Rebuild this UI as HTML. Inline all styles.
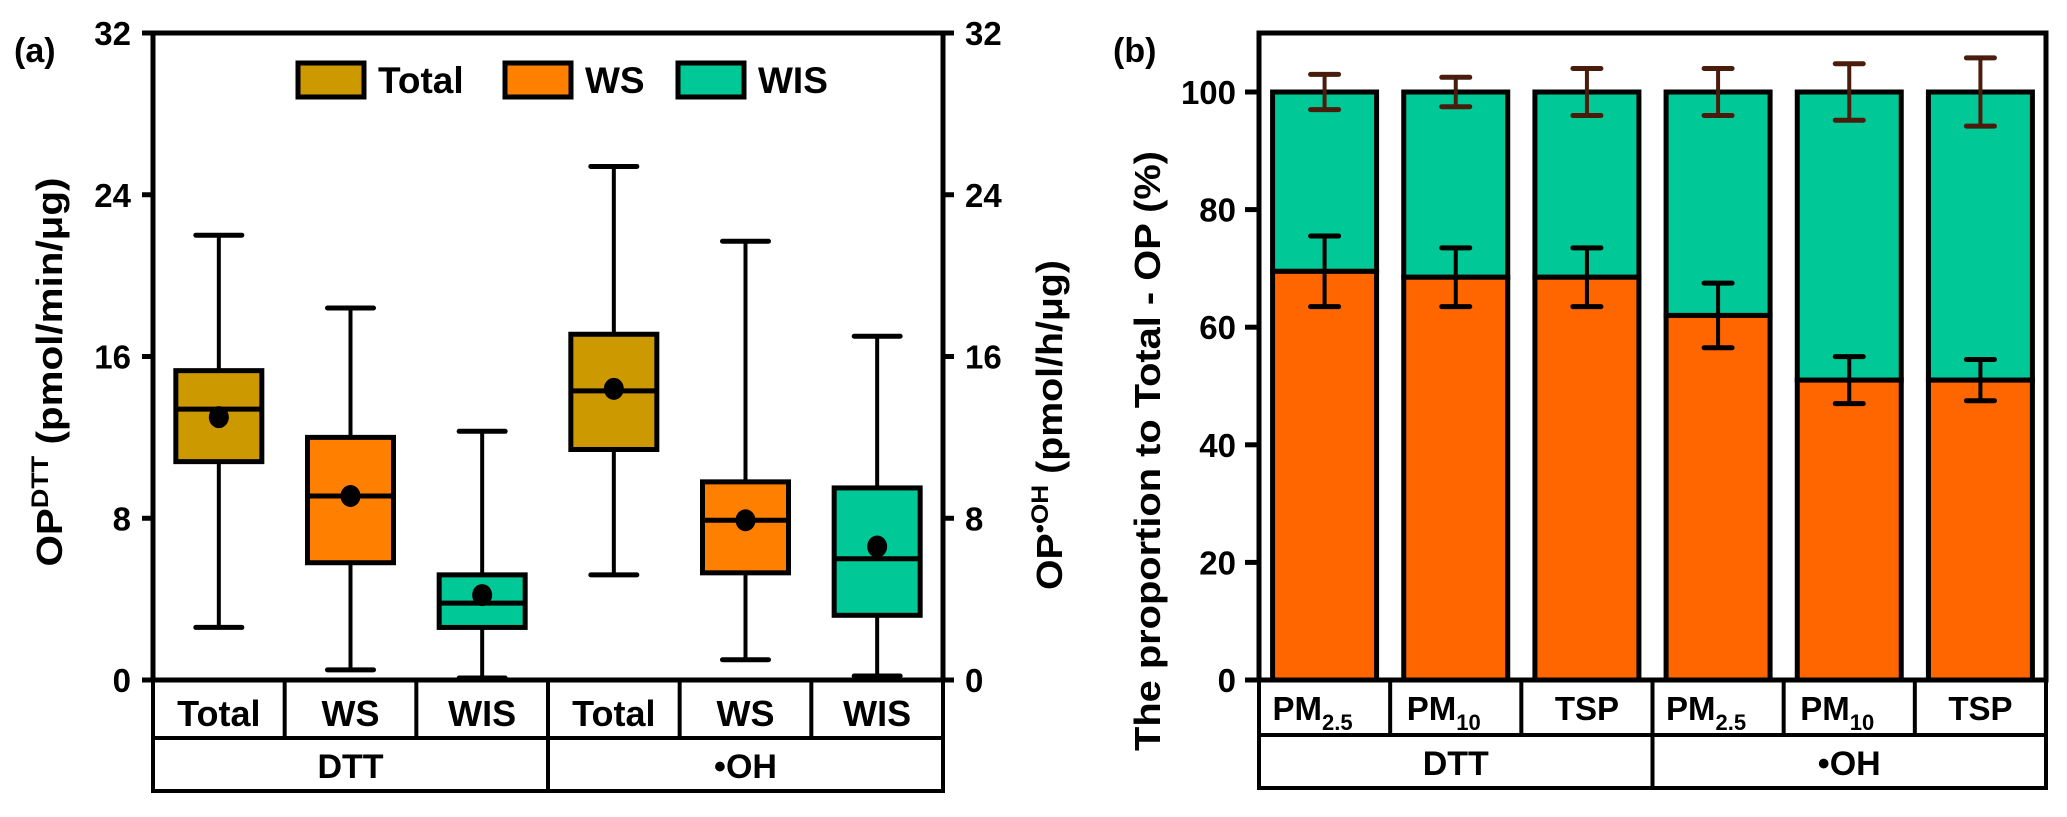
<!DOCTYPE html>
<html><head><meta charset="utf-8">
<style>
body{margin:0;background:#fff;}
svg text{font-family:"Liberation Sans",sans-serif;font-weight:bold;fill:#000;}
</style></head>
<body>
<svg id="chart" width="2067" height="812" viewBox="0 0 2067 812" xmlns="http://www.w3.org/2000/svg">
<g id="pa"></g>
<g id="pb"></g>
</svg>
<script>
// Panel (a) data
const boxCats = ["Total","WS","WIS","Total","WS","WIS"];
const boxGroups = ["DTT","•OH"];
const whiskHigh = [22.0,18.4,12.3,25.4,21.7,17.0];
const q3Vals = [15.3,12.0,5.2,17.1,9.8,9.5];
const medVals = [13.4,9.1,3.8,14.3,7.9,6.0];
const meanVals = [13.0,9.1,4.2,14.4,7.9,6.6];
const q1Vals = [10.8,5.8,2.6,11.4,5.3,3.2];
const whiskLow = [2.6,0.5,0.1,5.2,1.0,0.2];
const aTicks = [0,8,16,24,32];
// Panel (b) data
const barCats = ["PM","PM","TSP","PM","PM","TSP"];
const barSubs = ["2.5","10","","2.5","10",""];
const wsPct = [69.5,68.5,68.5,62,51,51];
const wsErr = [6,5,5,5.5,4,3.5];
const totErr = [3,2.5,4,4,4.8,5.8];
const bTicks = [0,20,40,60,80,100];

const NS="http://www.w3.org/2000/svg";
function mk(parent,tag,attrs,text){const e=document.createElementNS(NS,tag);for(const k in attrs)e.setAttribute(k,attrs[k]);if(text!==undefined)e.textContent=text;parent.appendChild(e);return e;}
const colA=["#CC9900","#FF8000","#00C896","#CC9900","#FF8000","#00C896"];

// ---------- Panel A ----------
const pa=document.getElementById('pa');
const aL=153,aR=943,aT=33,aB=680,aMax=32;
const ay=v=>aB-(v/aMax)*(aB-aT);
const colW=(aR-aL)/6;
const ax=i=>aL+colW*(i+0.5);
let t=mk(pa,'text',{x:14,y:62,'font-size':34},'(a)');

aTicks.forEach(v=>{
  let l=mk(pa,'line',{x1:aL-11,x2:aL,y1:ay(v),y2:ay(v),stroke:'#000','stroke-width':5});
  
  let tl=mk(pa,'text',{x:aL-22,y:ay(v)+12,'font-size':33,'text-anchor':'end'},v);
  
  let l2=mk(pa,'line',{x1:aR,x2:aR+11,y1:ay(v),y2:ay(v),stroke:'#000','stroke-width':5});
  
  let tr=mk(pa,'text',{x:aR+22,y:ay(v)+12,'font-size':33},v);
  
});
let yt=mk(pa,'text',{transform:'translate(62,372) rotate(-90)','font-size':36,'text-anchor':'middle',textLength:389,lengthAdjust:'spacingAndGlyphs'});

yt.innerHTML='OP<tspan dy="-14" font-size="24">DTT</tspan><tspan dy="14"> (pmol/min/μg)</tspan>';
let yt2=mk(pa,'text',{transform:'translate(1062,425) rotate(-90)','font-size':36,'text-anchor':'middle',textLength:330,lengthAdjust:'spacingAndGlyphs'});

yt2.innerHTML='OP<tspan dy="-14" font-size="24">•OH</tspan><tspan dy="14"> (pmol/h/μg)</tspan>';
const bw=86,cw=46;
boxCats.forEach((c,i)=>{
  const g=mk(pa,'g',{});
  
  
  const x=ax(i);
  mk(g,'line',{x1:x,x2:x,y1:ay(whiskHigh[i]),y2:ay(q3Vals[i]),stroke:'#000','stroke-width':4});
  mk(g,'line',{x1:x,x2:x,y1:ay(q1Vals[i]),y2:ay(whiskLow[i]),stroke:'#000','stroke-width':4});
  mk(g,'line',{x1:x-cw/2,x2:x+cw/2,y1:ay(whiskHigh[i]),y2:ay(whiskHigh[i]),stroke:'#000','stroke-width':5,'stroke-linecap':'round'});
  mk(g,'line',{x1:x-cw/2,x2:x+cw/2,y1:ay(whiskLow[i]),y2:ay(whiskLow[i]),stroke:'#000','stroke-width':5,'stroke-linecap':'round'});
  mk(g,'rect',{x:x-bw/2,y:ay(q3Vals[i]),width:bw,height:ay(q1Vals[i])-ay(q3Vals[i]),fill:colA[i],stroke:'#000','stroke-width':5});
  mk(g,'line',{x1:x-bw/2,x2:x+bw/2,y1:ay(medVals[i]),y2:ay(medVals[i]),stroke:'#000','stroke-width':5});
  mk(g,'ellipse',{cx:x,cy:ay(meanVals[i]),rx:10,ry:11,fill:'#000'});
});
let r=mk(pa,'rect',{x:aL,y:aT,width:aR-aL,height:aB-aT,fill:'none',stroke:'#000','stroke-width':5});

// legend
const legItems=[["Total","#CC9900",298],["WS","#FF8000",505],["WIS","#00C896",678]];
legItems.forEach(li=>{
  const g=mk(pa,'g',{});
  
  
  mk(g,'rect',{x:li[2],y:63,width:66,height:34,fill:li[1],stroke:'#000','stroke-width':5});
  mk(g,'text',{x:li[2]+80,y:93,'font-size':37},li[0]);
});
function table(parent,L,R,top,r1,r2,n,labels,subs,groups,name,fs,base1,base2){
  const w=(R-L)/n;
  const g=mk(parent,'g',{});
  
  mk(g,'rect',{x:L,y:top,width:R-L,height:r2-top,fill:'none',stroke:'#000','stroke-width':4});
  mk(g,'line',{x1:L,x2:R,y1:r1,y2:r1,stroke:'#000','stroke-width':4});
  for(let i=1;i<n;i++)mk(g,'line',{x1:L+w*i,x2:L+w*i,y1:top,y2:i==n/2?r2:r1,stroke:'#000','stroke-width':4});
  labels.forEach((lab,i)=>{
    const tx=mk(g,'text',{x:L+w*(i+0.5)-(subs&&subs[i]?12:0),y:base1,'font-size':fs,'text-anchor':'middle'});
    tx.innerHTML=lab+(subs&&subs[i]?'<tspan dy="10" font-size="22">'+subs[i]+'</tspan>':'');
  });
  groups.forEach((gr,j)=>mk(g,'text',{x:L+(R-L)/4*(2*j+1),y:base2,'font-size':34,'text-anchor':'middle'},gr));
}
table(pa,aL,aR,aB,738,791,6,boxCats,null,boxGroups,'x-category-table-a',36,726,778);

// ---------- Panel B ----------
const pb=document.getElementById('pb');
const bL=1259,bR=2046,bT=33,bB=680,b100=92;
const by=v=>bB-(v/100)*(bB-b100);
const bColW=(bR-bL)/6;
const bx=i=>bL+bColW*(i+0.5);
let tb=mk(pb,'text',{x:1113,y:62,'font-size':34},'(b)');

let yb=mk(pb,'text',{transform:'translate(1160,451) rotate(-90)','font-size':36,'text-anchor':'middle',textLength:600,lengthAdjust:'spacingAndGlyphs'},'The proportion to Total - OP (%)');

bTicks.forEach(v=>{
  let l=mk(pb,'line',{x1:bL-14,x2:bL,y1:by(v),y2:by(v),stroke:'#000','stroke-width':5});
  
  let tl=mk(pb,'text',{x:1236,y:by(v)+12,'font-size':33,'text-anchor':'end'},v);
  
});
const barW=104;
wsPct.forEach((v,i)=>{
  const x=bx(i);
  const g=mk(pb,'g',{});
  
  
  mk(g,'rect',{x:x-barW/2,y:by(100),width:barW,height:by(v)-by(100),fill:'#00C896',stroke:'#000','stroke-width':5});
  mk(g,'rect',{x:x-barW/2,y:by(v),width:barW,height:by(0)-by(v),fill:'#FF6600',stroke:'#000','stroke-width':5});
  [[v,wsErr[i],'#000'],[100,totErr[i],'#4a1c0c']].forEach(e=>{
    mk(g,'line',{x1:x,x2:x,y1:by(e[0]+e[1]),y2:by(e[0]-e[1]),stroke:e[2],'stroke-width':4});
    mk(g,'line',{x1:x-14,x2:x+14,y1:by(e[0]+e[1]),y2:by(e[0]+e[1]),stroke:e[2],'stroke-width':5,'stroke-linecap':'round'});
    mk(g,'line',{x1:x-14,x2:x+14,y1:by(e[0]-e[1]),y2:by(e[0]-e[1]),stroke:e[2],'stroke-width':5,'stroke-linecap':'round'});
  });
});
let fb=mk(pb,'rect',{x:bL,y:bT,width:bR-bL,height:bB-bT,fill:'none',stroke:'#000','stroke-width':5});

table(pb,bL,bR,bB,735,788,6,barCats,barSubs,boxGroups,'x-category-table-b',33,720,775);
</script>
</body></html>
